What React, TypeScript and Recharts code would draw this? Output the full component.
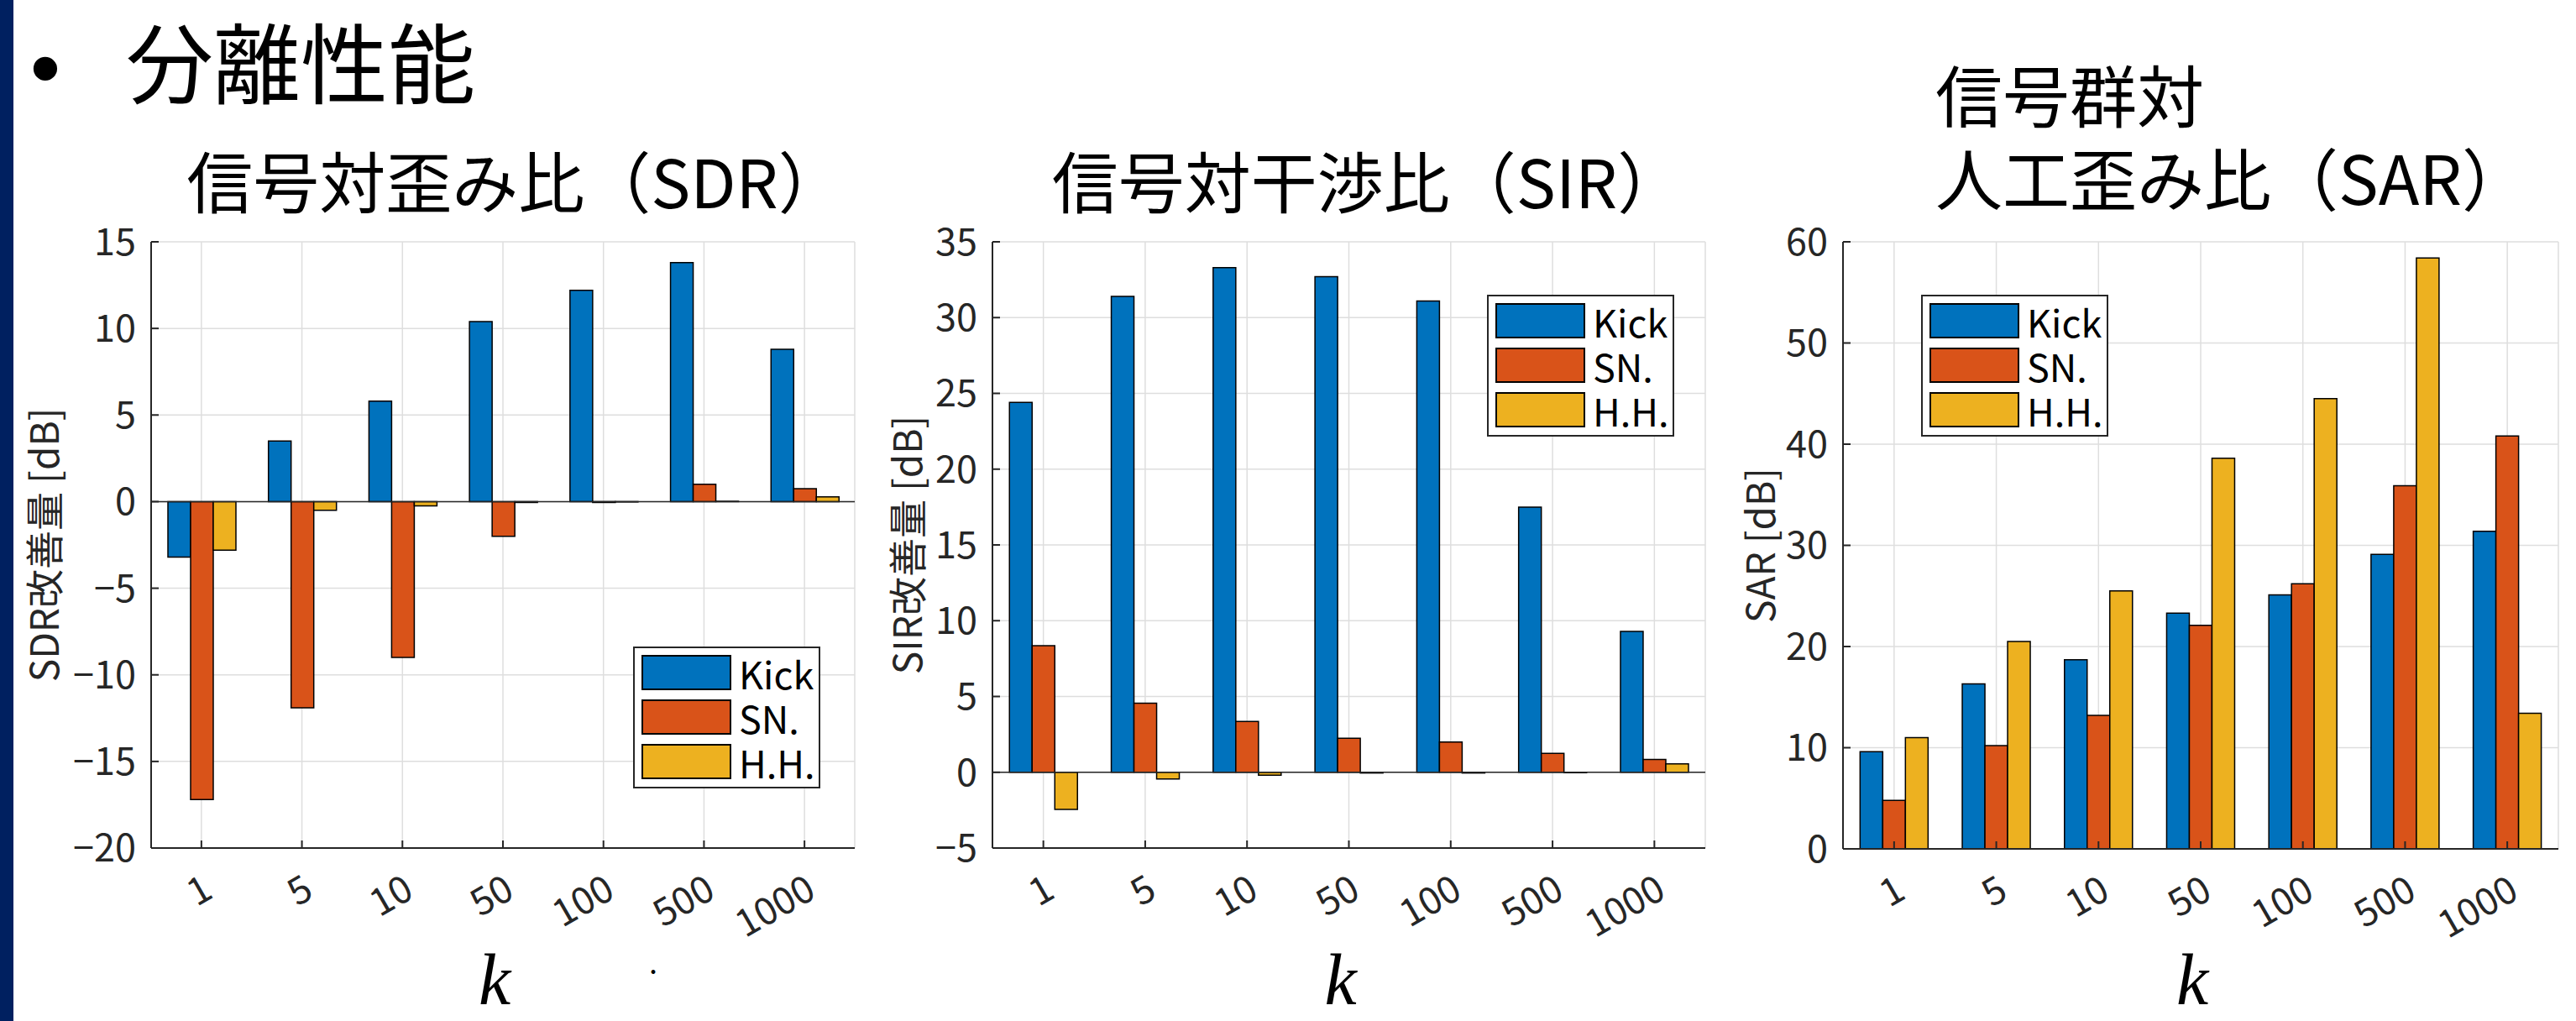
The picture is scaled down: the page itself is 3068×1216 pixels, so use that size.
import React from "react";
import {
  Bar,
  BarChart,
  CartesianGrid,
  Legend,
  ReferenceLine,
  XAxis,
  YAxis,
} from "recharts";

// k values (x categories)
const categories = ["1", "5", "10", "50", "100", "500", "1000"];
const seriesNames = ["Kick", "SN.", "H.H."];

// SDR improvement [dB]
const sdrKick = [-3.2, 3.5, 5.8, 10.4, 12.2, 13.8, 8.8];
const sdrSn = [-17.2, -11.9, -9.0, -2.0, -0.05, 1.0, 0.75];
const sdrHh = [-2.8, -0.5, -0.25, -0.05, -0.02, 0.02, 0.27];

// SIR improvement [dB]
const sirKick = [24.4, 31.4, 33.3, 32.7, 31.1, 17.5, 9.3];
const sirSn = [8.35, 4.55, 3.35, 2.25, 2.0, 1.25, 0.85];
const sirHh = [-2.45, -0.45, -0.2, -0.05, -0.05, -0.03, 0.55];

// SAR [dB]
const sarKick = [9.6, 16.3, 18.7, 23.3, 25.1, 29.1, 31.4];
const sarSn = [4.8, 10.2, 13.2, 22.1, 26.2, 35.9, 40.8];
const sarHh = [11.0, 20.5, 25.5, 38.6, 44.5, 58.4, 13.4];

const sdrTicks = [-20, -15, -10, -5, 0, 5, 10, 15];
const sirTicks = [-5, 0, 5, 10, 15, 20, 25, 30, 35];
const sarTicks = [0, 10, 20, 30, 40, 50, 60];

const FONT = '"Noto Sans CJK JP", "Noto Sans", sans-serif';
const AXIS = "#262626";
const COLORS = ["#0072BD", "#D95319", "#EDB120"];

const minus = (v: number) => String(v).replace("-", "\u2212");

const XTick = (props: any) => {
  const { x, y, payload } = props;
  return (
    <text
      x={x}
      y={y}
      transform={`rotate(-30, ${x}, ${y})`}
      textAnchor="end"
      dy="0.71em"
      fill={AXIS}
      fontSize={45}
      fontFamily={FONT}
    >
      {payload.value}
    </text>
  );
};

const LegendBox = (props: any) => {
  const payload = [...(props.payload || [])].sort(
    (a: any, b: any) => seriesNames.indexOf(a.value) - seriesNames.indexOf(b.value)
  );
  return (
    <svg width={223} height={169} style={{ display: "block", overflow: "visible" }}>
      <rect x={1} y={1} width={221} height={167} fill="#fff" stroke={AXIS} strokeWidth={2} />
      {payload.map((e: any, i: number) => (
        <g key={e.value}>
          <rect
            x={11}
            y={11 + i * 53}
            width={105}
            height={40}
            fill={e.color || COLORS[i]}
            stroke="#000"
            strokeWidth={2}
          />
          <text
            x={126}
            y={31 + i * 53}
            dominantBaseline="central"
            fontSize={45}
            fontFamily={FONT}
            fill="#000"
          >
            {e.value}
          </text>
        </g>
      ))}
    </svg>
  );
};

type PanelProps = {
  left: number;
  width: number;
  marginLeft: number;
  marginRight: number;
  marginBottom: number;
  kick: number[];
  sn: number[];
  hh: number[];
  domain: [number, number];
  ticks: number[];
  yLabel: string;
  yLabelX: number;
  legendX: number;
  legendY: number;
  zeroLine: boolean;
};

const Panel: React.FC<PanelProps> = (p) => {
  const data = categories.map((k, i) => ({
    k,
    Kick: p.kick[i],
    SN: p.sn[i],
    HH: p.hh[i],
  }));
  return (
    <div style={{ position: "absolute", left: p.left, top: 0 }}>
      <BarChart
        width={p.width}
        height={1216}
        data={data}
        barCategoryGap="16.7%"
        barGap={0}
        margin={{ top: 288, right: p.marginRight, bottom: p.marginBottom, left: p.marginLeft }}
      >
        <CartesianGrid stroke="#dedede" strokeWidth={1.5} />
        <XAxis
          dataKey="k"
          height={100}
          stroke={AXIS}
          strokeWidth={2}
          tickSize={-9}
          tickMargin={39}
          tick={<XTick />}
          interval={0}
          label={(lp: any) => {
            const vb = lp.viewBox || {};
            return (
              <text
                x={(vb.x || 0) + (vb.width || 0) / 2 - 10}
                y={1196}
                textAnchor="middle"
                fontSize={86}
                fontStyle="italic"
                fontFamily='"Liberation Serif", "DejaVu Serif", serif'
                fill="#000"
              >
                k
              </text>
            );
          }}
        />
        <XAxis
          xAxisId="top"
          dataKey="k"
          orientation="top"
          height={0}
          stroke={AXIS}
          strokeWidth={2}
          tickSize={-9}
          tick={false}
          interval={0}
        />
        <YAxis
          width={100}
          domain={p.domain}
          ticks={p.ticks}
          interval={0}
          allowDataOverflow
          stroke={AXIS}
          strokeWidth={2}
          tickSize={-9}
          tickMargin={27}
          tickFormatter={minus}
          tick={{ fill: AXIS, fontSize: 45, fontFamily: FONT }}
          label={(lp: any) => {
            const vb = lp.viewBox || {};
            const cy = (vb.y || 288) + (vb.height || 722) / 2;
            return (
              <text
                x={p.yLabelX}
                y={cy}
                transform={`rotate(-90, ${p.yLabelX}, ${cy})`}
                textAnchor="middle"
                dominantBaseline="central"
                fontSize={46}
                fontFamily={FONT}
                fill={AXIS}
              >
                {p.yLabel}
              </text>
            );
          }}
        />
        <YAxis
          yAxisId="right"
          orientation="right"
          width={0}
          domain={p.domain}
          ticks={p.ticks}
          interval={0}
          stroke={AXIS}
          strokeWidth={2}
          tickSize={-9}
          tick={false}
        />
        <Legend
          layout="vertical"
          align="center"
          verticalAlign="middle"
          content={<LegendBox />}
          wrapperStyle={{ left: p.legendX, top: p.legendY, width: 223, height: 169 }}
        />
        <Bar dataKey="Kick" name={seriesNames[0]} fill={COLORS[0]} stroke="#000" strokeWidth={1.5} isAnimationActive={false} />
        <Bar dataKey="SN" name={seriesNames[1]} fill={COLORS[1]} stroke="#000" strokeWidth={1.5} isAnimationActive={false} />
        <Bar dataKey="HH" name={seriesNames[2]} fill={COLORS[2]} stroke="#000" strokeWidth={1.5} isAnimationActive={false} />
        {p.zeroLine && <ReferenceLine y={0} stroke={AXIS} strokeWidth={1.5} />}
      </BarChart>
    </div>
  );
};

export default function App() {
  return (
    <div
      style={{
        position: "absolute",
        left: 0,
        top: 0,
        width: 3068,
        height: 1216,
        background: "#fff",
        overflow: "hidden",
      }}
    >
      <Panel
        left={0}
        width={1040}
        marginLeft={80}
        marginRight={22}
        marginBottom={106}
        kick={sdrKick}
        sn={sdrSn}
        hh={sdrHh}
        domain={[-20, 15]}
        ticks={sdrTicks}
        yLabel="SDR改善量 [dB]"
        yLabelX={50}
        legendX={754}
        legendY={770}
        zeroLine
      />
      <Panel
        left={1040}
        width={1020}
        marginLeft={42}
        marginRight={29}
        marginBottom={106}
        kick={sirKick}
        sn={sirSn}
        hh={sirHh}
        domain={[-5, 35]}
        ticks={sirTicks}
        yLabel="SIR改善量 [dB]"
        yLabelX={38}
        legendX={731}
        legendY={351}
        zeroLine
      />
      <Panel
        left={2060}
        width={1008}
        marginLeft={35}
        marginRight={21}
        marginBottom={105}
        kick={sarKick}
        sn={sarSn}
        hh={sarHh}
        domain={[0, 60]}
        ticks={sarTicks}
        yLabel="SAR [dB]"
        yLabelX={34}
        legendX={228}
        legendY={351}
        zeroLine={false}
      />
      <svg
        width={3068}
        height={1216}
        style={{ position: "absolute", left: 0, top: 0, pointerEvents: "none" }}
      >
        <rect x={0} y={0} width={16} height={1216} fill="#002060" />
        <text x={54} y={116} textAnchor="middle" fontSize={104} fontFamily='"Liberation Sans", Arial, sans-serif' fill="#000">
          •
        </text>
        <text x={150} y={116} fontSize={104} fontFamily={FONT} fill="#000">
          分離性能
        </text>
        <text x={614} y={248} textAnchor="middle" fontSize={79} fontFamily={FONT} fill="#000">
          信号対歪み比（SDR）
        </text>
        <text x={1629} y={248} textAnchor="middle" fontSize={79} fontFamily={FONT} fill="#000">
          信号対干渉比（SIR）
        </text>
        <text x={2305} y={145} fontSize={80} fontFamily={FONT} fill="#000">
          信号群対
        </text>
        <text x={2305} y={244} fontSize={80} fontFamily={FONT} fill="#000">
          人工歪み比（SAR）
        </text>
        <text x={773} y={1160} fontSize={36} fontFamily={FONT} fill="#000">
          .
        </text>
      </svg>
    </div>
  );
}
